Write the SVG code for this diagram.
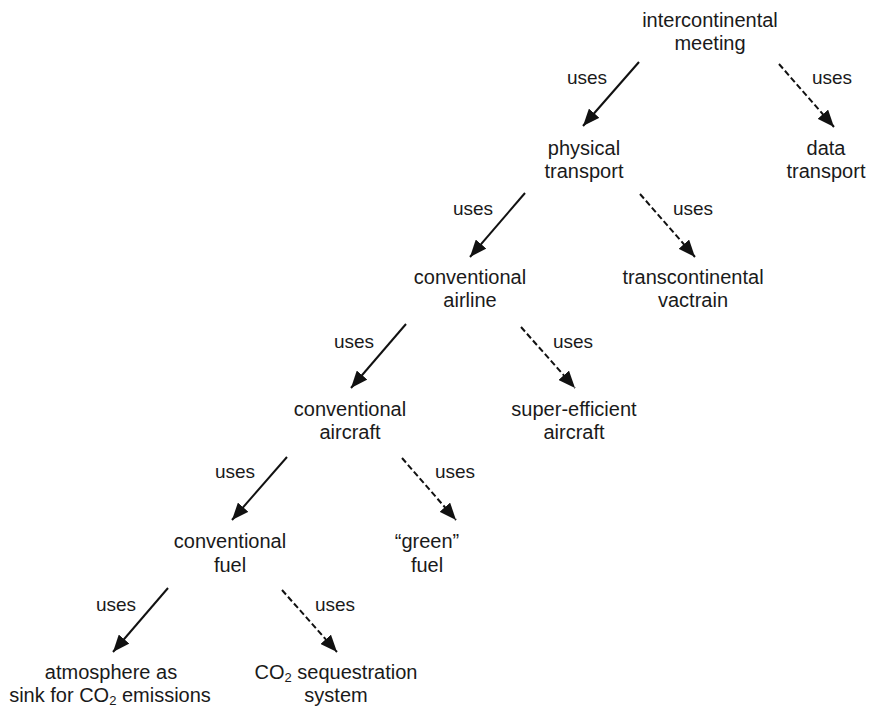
<svg xmlns="http://www.w3.org/2000/svg" width="874" height="707" viewBox="0 0 874 707">
<defs>
<marker id="ah" markerUnits="userSpaceOnUse" markerWidth="18" markerHeight="14" viewBox="0 0 18 14" refX="17" refY="7" orient="auto">
<path d="M0,0 L17,7 L0,14 z" fill="#111"/>
</marker>
<style>
.n{font-family:"Liberation Sans",Arial,sans-serif;font-size:20px;fill:#1a1a1a;text-anchor:middle}
.l{font-family:"Liberation Sans",Arial,sans-serif;font-size:19px;fill:#1a1a1a;text-anchor:middle}
.s{stroke:#111;stroke-width:2;fill:none;marker-end:url(#ah)}
.d{stroke:#111;stroke-width:2;fill:none;stroke-dasharray:6 3;marker-end:url(#ah)}
.sub{font-size:13px}
</style>
</defs>
<rect width="874" height="707" fill="#fff"/>
<g id="connectors">
<line class="s" x1="639" y1="62" x2="583" y2="126"/>
<line class="d" x1="779" y1="64" x2="834" y2="127"/>
<line class="s" x1="525" y1="193" x2="470" y2="257"/>
<line class="d" x1="640" y1="194" x2="695" y2="257"/>
<line class="s" x1="406" y1="324" x2="351" y2="388"/>
<line class="d" x1="521" y1="327" x2="575" y2="388"/>
<line class="s" x1="287" y1="457" x2="232" y2="520"/>
<line class="d" x1="402" y1="458" x2="456" y2="520"/>
<line class="s" x1="168" y1="588" x2="113" y2="652"/>
<line class="d" x1="282" y1="590" x2="337" y2="652"/>
<text class="l" x="587" y="84">uses</text>
<text class="l" x="832" y="84">uses</text>
<text class="l" x="473" y="215">uses</text>
<text class="l" x="693" y="215">uses</text>
<text class="l" x="354" y="348">uses</text>
<text class="l" x="573" y="348">uses</text>
<text class="l" x="235" y="478">uses</text>
<text class="l" x="455" y="478">uses</text>
<text class="l" x="116" y="611">uses</text>
<text class="l" x="335" y="611">uses</text>
</g>
<g id="intercontinental-meeting"><text class="n" x="710" y="27">intercontinental</text><text class="n" x="710" y="50">meeting</text></g>
<g id="physical-transport"><text class="n" x="584" y="155">physical</text><text class="n" x="584" y="178">transport</text></g>
<g id="data-transport"><text class="n" x="826" y="155">data</text><text class="n" x="826" y="178">transport</text></g>
<g id="conventional-airline"><text class="n" x="470" y="284">conventional</text><text class="n" x="470" y="307">airline</text></g>
<g id="transcontinental-vactrain"><text class="n" x="693" y="284">transcontinental</text><text class="n" x="693" y="307">vactrain</text></g>
<g id="conventional-aircraft"><text class="n" x="350" y="416">conventional</text><text class="n" x="350" y="439">aircraft</text></g>
<g id="super-efficient-aircraft"><text class="n" x="574" y="416">super-efficient</text><text class="n" x="574" y="439">aircraft</text></g>
<g id="conventional-fuel"><text class="n" x="230" y="548">conventional</text><text class="n" x="230" y="572">fuel</text></g>
<g id="green-fuel"><text class="n" x="427" y="548">“green”</text><text class="n" x="427" y="572">fuel</text></g>
<g id="atmosphere"><text class="n" x="111" y="679">atmosphere as</text><text class="n" x="110" y="702">sink for CO<tspan class="sub" dy="3">2</tspan><tspan dy="-3"> emissions</tspan></text></g>
<g id="co2-sequestration"><text class="n" x="336" y="679">CO<tspan class="sub" dy="3">2</tspan><tspan dy="-3"> sequestration</tspan></text><text class="n" x="336" y="702">system</text></g>
</svg>
